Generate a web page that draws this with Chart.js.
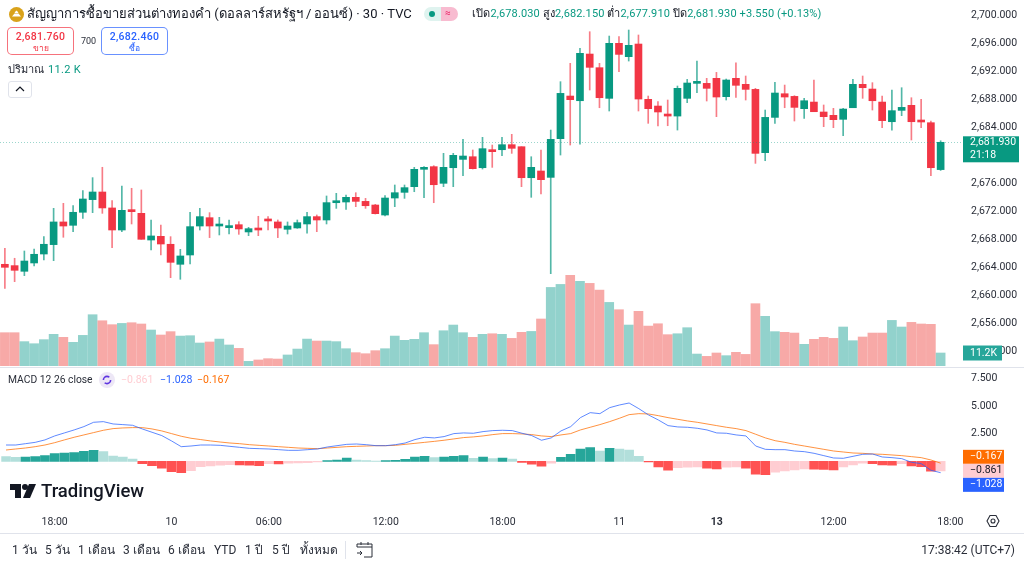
<!DOCTYPE html>
<html>
<head>
<meta charset="utf-8">
<title>TVC gold CFD 30m</title>
<script src="https://cdn.jsdelivr.net/npm/chart.js@4"></script>
<style>
	html, body { margin: 0; padding: 0; background: #fff; width: 1024px; height: 565px; overflow: hidden; }
	body { position: relative; font-family: Roboto, "Noto Sans", sans-serif; color: #131722; }
	canvas { position: absolute; left: 0; }
	.txt { position: absolute; white-space: nowrap; line-height: 1; }
	.up { color: #089981; }
	.box { position: absolute; top: 27px; width: 65px; height: 26px; border-radius: 5px; background: #fff; text-align: center; }
	.box b { display: block; font-size: 10.5px; margin-top: 3px; line-height: 12px; letter-spacing: .3px; font-weight: 500; }
	.box span { display: block; font-size: 8.5px; line-height: 10px; }
	.range { top: 544px; font-size: 12px; color: #2a2e39; }
</style>
</head>
<body>
<canvas id="price-chart" width="1024" height="366" style="top:0"></canvas>
<canvas id="macd-chart" width="1024" height="166" style="top:367px"></canvas>

<!-- header -->
<svg style="position:absolute;left:9px;top:7px" width="15" height="15" viewBox="0 0 15 15">
	<circle cx="7.5" cy="7.5" r="7.5" fill="#d9a21b"/>
	<path d="M3 9.5 L5.5 6.5 H9.5 L12 9.5 Z M5.5 6 L7 3.8 H8 L9.5 6 Z" fill="#fff"/>
</svg>
<div class="txt" style="left:27px;top:7px;font-size:13px">สัญญาการซื้อขายส่วนต่างทองคำ (ดอลลาร์สหรัฐฯ / ออนซ์) · 30 · TVC</div>
<div style="position:absolute;left:424px;top:7px;width:17px;height:14px;background:#dff3ef;border-radius:7px 0 0 7px"></div>
<div style="position:absolute;left:441px;top:7px;width:17px;height:14px;background:#f8bbd0;border-radius:0 7px 7px 0"></div>
<div style="position:absolute;left:429px;top:11px;width:6px;height:6px;background:#089981;border-radius:50%"></div>
<div class="txt" style="left:445px;top:8px;font-size:10px;color:#e91e63">≈</div>
<div class="txt" style="left:472px;top:8px;font-size:11px;letter-spacing:.13px">เปิด<span class="up">2,678.030</span> สูง<span class="up">2,682.150</span> ต่ำ<span class="up">2,677.910</span> ปิด<span class="up">2,681.930 +3.550 (+0.13%)</span></div>

<div class="box" style="left:7px;border:1px solid rgba(242,54,69,0.7);color:#f23645"><b>2,681.760</b><span>ขาย</span></div>
<div class="txt" style="left:81px;top:37px;font-size:9px;color:#2a2e39">700</div>
<div class="box" style="left:101px;border:1px solid rgba(41,98,255,0.7);color:#2962ff"><b>2,682.460</b><span>ซื้อ</span></div>
<div class="txt" style="left:8px;top:64px;font-size:11px;color:#2a2e39">ปริมาณ</div>
<div class="txt up" style="left:48px;top:64px;font-size:11px;letter-spacing:.3px">11.2 K</div>
<div style="position:absolute;left:8px;top:81px;width:22px;height:15px;border:1px solid #e0e3eb;border-radius:3px"></div>
<svg style="position:absolute;left:14px;top:85px" width="12" height="8" viewBox="0 0 12 8"><path d="M2 6 L6 2 L10 6" fill="none" stroke="#131722" stroke-width="1.2"/></svg>

<!-- MACD legend -->
<div class="txt" style="left:8px;top:375px;font-size:10.3px;color:#2a2e39">MACD 12 26 close</div>
<div style="position:absolute;left:99px;top:372px;width:16px;height:16px;border-radius:50%;background:#ede7f6"></div>
<svg style="position:absolute;left:102px;top:375px" width="10" height="10" viewBox="0 0 10 10"><circle cx="5" cy="5" r="3.6" fill="none" stroke="#5e35e0" stroke-width="1.6" stroke-dasharray="8 3"/></svg>
<div class="txt" style="left:121px;top:375px;font-size:10.5px;color:#ffcdd2">−0.861</div>
<div class="txt" style="left:160px;top:375px;font-size:10.5px;color:#2962ff">−1.028</div>
<div class="txt" style="left:197px;top:375px;font-size:10.5px;color:#ff6d00">−0.167</div>

<!-- logo -->
<svg style="position:absolute;left:10px;top:484px" width="26" height="14" viewBox="0 0 26 14">
	<path d="M0 0 H11 V14 H5 V6 H0 Z" fill="#131722"/>
	<circle cx="15" cy="3" r="3" fill="#131722"/>
	<path d="M19 0 H26 L20 14 H13 Z" fill="#131722"/>
</svg>
<div class="txt" style="left:41px;top:482px;font-size:18.5px;font-weight:500;color:#131722">TradingView</div>

<!-- settings icon -->
<svg style="position:absolute;left:986px;top:514px" width="14" height="14" viewBox="0 0 14 14">
	<path d="M4 1.5 H10 L13 7 L10 12.5 H4 L1 7 Z" fill="none" stroke="#2a2e39" stroke-width="1.1"/>
	<circle cx="7" cy="7" r="2" fill="none" stroke="#2a2e39" stroke-width="1.1"/>
</svg>

<!-- bottom toolbar -->
<div style="position:absolute;left:0;top:533px;width:1024px;height:1px;background:#e0e3eb"></div>
<div class="txt range" style="left:12px">1 วัน</div>
<div class="txt range" style="left:45px">5 วัน</div>
<div class="txt range" style="left:78px">1 เดือน</div>
<div class="txt range" style="left:123px">3 เดือน</div>
<div class="txt range" style="left:168px">6 เดือน</div>
<div class="txt range" style="left:214px">YTD</div>
<div class="txt range" style="left:245px">1 ปี</div>
<div class="txt range" style="left:272px">5 ปี</div>
<div class="txt range" style="left:300px">ทั้งหมด</div>
<div style="position:absolute;left:345px;top:541px;width:1px;height:18px;background:#e0e3eb"></div>
<svg style="position:absolute;left:356px;top:541px" width="17" height="17" viewBox="0 0 17 17">
	<path d="M1 6 V3 H16 V16 H8 M1 6 H16 M5 1 V4 M12 1 V4 M1 12 H6 M4 10 L6 12 L4 14" fill="none" stroke="#2a2e39" stroke-width="1"/>
</svg>
<div class="txt" style="right:9px;top:544px;font-size:12px;color:#2a2e39">17:38:42 (UTC+7)</div>

<script>
const tickSlots = [5, 17, 27, 39, 51, 63, 73, 85, 97]
const tickLabels = ['18:00', '10', '06:00', '12:00', '18:00', '11', '13', '12:00', '18:00']
const priceTicks = [2652, 2656, 2660, 2664, 2668, 2672, 2676, 2684, 2688, 2692, 2696, 2700]
const macdTicks = [2.5, 5, 7.5]

const opens = [
	2664.50, 2664.31, 2663.50, 2664.69, 2665.97, 2667.31, 2670.55, 2670.07, 2671.93, 2673.74,
	2674.83, 2672.55, 2669.40, 2672.16, 2671.78, 2667.97, 2668.50, 2667.36, 2664.50, 2665.83,
	2669.97, 2671.16, 2669.97, 2669.74, 2670.16, 2669.12, 2669.59, 2670.93, 2670.55, 2669.50,
	2669.69, 2670.26, 2671.31, 2670.83, 2673.30, 2673.40, 2674.07, 2673.49, 2672.97, 2671.54,
	2673.97, 2674.78, 2675.59, 2678.07, 2678.45, 2676.07, 2678.30, 2679.49, 2679.87, 2678.30,
	2680.73, 2680.87, 2681.59, 2681.30, 2676.87, 2677.83, 2676.92, 2682.45, 2688.54, 2687.87,
	2694.54, 2692.59, 2688.21, 2696.07, 2694.16, 2695.97, 2688.07, 2687.11, 2685.97, 2685.68,
	2688.21, 2690.35, 2690.35, 2691.07, 2688.45, 2691.07, 2690.21, 2689.49, 2680.45, 2685.49,
	2688.87, 2688.49, 2686.73, 2687.68, 2686.26, 2685.78, 2685.21, 2686.87, 2690.21, 2689.54,
	2687.68, 2684.87, 2686.49, 2687.21, 2684.97, 2684.73, 2678.03
]
const highs = [
	2666.78, 2665.36, 2666.40, 2666.69, 2668.45, 2672.50, 2673.21, 2672.88, 2675.02, 2676.88,
	2678.36, 2673.59, 2675.69, 2675.36, 2675.12, 2670.83, 2670.12, 2668.45, 2666.64, 2671.93,
	2672.50, 2671.88, 2671.21, 2670.83, 2670.59, 2669.78, 2671.36, 2671.31, 2670.83, 2670.55,
	2670.83, 2671.93, 2671.55, 2674.26, 2674.64, 2674.40, 2674.73, 2673.92, 2673.07, 2674.30,
	2675.83, 2675.83, 2678.35, 2678.45, 2678.59, 2680.35, 2680.35, 2682.35, 2680.83, 2682.64,
	2681.54, 2682.64, 2683.07, 2681.30, 2679.87, 2680.83, 2683.68, 2690.59, 2693.21, 2695.35,
	2697.73, 2693.21, 2697.11, 2697.02, 2697.97, 2697.26, 2688.54, 2687.73, 2687.97, 2689.97,
	2690.92, 2693.54, 2691.07, 2691.92, 2690.97, 2693.30, 2691.40, 2689.64, 2686.54, 2690.49,
	2690.11, 2688.59, 2688.21, 2690.83, 2687.26, 2686.78, 2686.78, 2690.92, 2691.40, 2690.45,
	2688.54, 2689.40, 2689.73, 2688.30, 2688.07, 2684.97, 2682.15
]
const lows = [
	2661.07, 2662.02, 2662.88, 2664.26, 2665.12, 2665.02, 2668.36, 2669.16, 2671.07, 2671.88,
	2671.78, 2666.88, 2669.16, 2670.26, 2668.07, 2666.55, 2665.83, 2662.59, 2662.36, 2664.55,
	2669.40, 2668.31, 2668.69, 2668.83, 2668.78, 2668.59, 2668.59, 2669.40, 2668.31, 2668.83,
	2669.64, 2668.93, 2669.16, 2670.26, 2672.49, 2672.35, 2672.73, 2672.49, 2671.68, 2671.40,
	2672.73, 2673.92, 2674.87, 2674.02, 2673.30, 2675.59, 2675.59, 2677.16, 2678.11, 2678.11,
	2678.35, 2680.02, 2680.35, 2675.59, 2674.07, 2674.54, 2663.16, 2680.11, 2681.54, 2681.68,
	2689.40, 2686.87, 2686.40, 2692.02, 2693.54, 2686.40, 2684.64, 2684.26, 2684.30, 2683.68,
	2687.59, 2689.02, 2687.83, 2685.59, 2687.97, 2688.35, 2687.97, 2678.92, 2679.30, 2684.64,
	2686.87, 2684.97, 2685.35, 2686.30, 2684.16, 2684.02, 2682.87, 2686.87, 2688.21, 2686.54,
	2684.02, 2683.68, 2685.73, 2682.26, 2684.02, 2677.16, 2677.91
]
const closes = [
	2664.07, 2663.64, 2664.97, 2665.93, 2667.36, 2670.55, 2669.97, 2671.93, 2673.83, 2674.83,
	2672.55, 2669.40, 2672.21, 2672.02, 2668.07, 2668.55, 2667.40, 2664.78, 2665.69, 2669.88,
	2671.31, 2669.97, 2670.16, 2669.93, 2669.55, 2669.59, 2669.40, 2670.69, 2669.69, 2669.97,
	2670.45, 2671.31, 2670.83, 2673.31, 2673.45, 2674.07, 2673.49, 2672.87, 2671.73, 2673.97,
	2674.73, 2675.45, 2678.07, 2678.30, 2675.87, 2678.35, 2680.07, 2679.97, 2678.16, 2681.02,
	2680.59, 2681.59, 2681.07, 2676.87, 2678.35, 2676.59, 2682.35, 2688.92, 2688.02, 2694.64,
	2692.64, 2688.30, 2696.07, 2694.49, 2695.78, 2688.11, 2686.73, 2686.26, 2685.68, 2689.64,
	2690.40, 2690.59, 2689.64, 2688.40, 2690.83, 2690.07, 2689.49, 2680.35, 2685.49, 2688.97,
	2688.40, 2686.92, 2687.87, 2686.30, 2685.59, 2685.16, 2686.68, 2690.21, 2689.73, 2687.87,
	2685.02, 2686.45, 2686.92, 2684.87, 2684.83, 2678.30, 2681.93
]
const volumes = [
	28.7, 28.7, 21.0, 19.2, 22.7, 27.3, 24.7, 20.4, 26.4, 44.2,
	39.0, 35.6, 36.7, 37.3, 36.2, 31.0, 26.7, 29.6, 25.8, 26.1,
	19.8, 20.7, 23.2, 18.1, 15.2, 4.0, 5.2, 6.3, 6.0, 9.5,
	14.6, 23.2, 21.5, 21.5, 21.0, 14.9, 11.5, 10.6, 13.2, 14.9,
	25.8, 22.1, 23.0, 28.7, 18.4, 30.4, 35.3, 28.7, 24.7, 27.3,
	27.8, 27.3, 23.8, 29.0, 29.8, 40.5, 67.7, 70.3, 78.1, 72.9,
	71.2, 65.4, 54.8, 48.5, 35.3, 47.1, 34.4, 36.4, 27.0, 27.8,
	33.0, 10.3, 8.3, 11.2, 8.9, 11.8, 10.0, 53.7, 42.8, 29.6,
	29.0, 28.4, 18.7, 23.0, 24.7, 23.8, 33.6, 21.8, 25.0, 28.4,
	28.4, 39.3, 33.6, 37.6, 36.2, 35.9, 11.2
]
const macdLine = [
	1.47, 1.47, 1.59, 1.71, 1.93, 2.29, 2.56, 2.83, 3.13, 3.52,
	3.58, 3.37, 3.31, 3.25, 2.92, 2.62, 2.32, 1.84, 1.32, 1.38,
	1.47, 1.47, 1.44, 1.35, 1.26, 1.17, 1.14, 1.11, 1.05, 0.99,
	0.99, 1.05, 1.11, 1.29, 1.41, 1.53, 1.56, 1.50, 1.41, 1.41,
	1.50, 1.65, 1.96, 2.17, 2.11, 2.23, 2.50, 2.56, 2.53, 2.68,
	2.77, 2.80, 2.77, 2.53, 2.32, 1.90, 2.11, 2.74, 3.13, 3.94,
	4.39, 4.30, 4.84, 5.08, 5.26, 4.75, 4.18, 3.73, 3.22, 3.10,
	3.07, 2.98, 2.83, 2.56, 2.53, 2.38, 2.29, 1.38, 1.08, 1.05,
	1.05, 0.93, 0.87, 0.72, 0.51, 0.30, 0.27, 0.45, 0.63, 0.66,
	0.39, 0.33, 0.24, -0.09, -0.21, -0.81, -1.028
]
const signalLine = [
	1.02, 1.11, 1.20, 1.32, 1.47, 1.68, 1.93, 2.17, 2.38, 2.59,
	2.80, 2.95, 3.01, 3.04, 3.04, 2.92, 2.74, 2.50, 2.26, 2.08,
	1.96, 1.84, 1.74, 1.65, 1.59, 1.50, 1.44, 1.38, 1.32, 1.26,
	1.20, 1.17, 1.14, 1.20, 1.26, 1.32, 1.35, 1.38, 1.41, 1.41,
	1.44, 1.53, 1.62, 1.71, 1.80, 1.90, 2.02, 2.14, 2.20, 2.29,
	2.41, 2.50, 2.50, 2.47, 2.41, 2.29, 2.23, 2.38, 2.50, 2.83,
	3.07, 3.31, 3.58, 3.88, 4.21, 4.30, 4.27, 4.12, 3.94, 3.79,
	3.64, 3.52, 3.37, 3.22, 3.07, 2.95, 2.77, 2.44, 2.11, 1.86,
	1.71, 1.53, 1.38, 1.23, 1.08, 0.93, 0.84, 0.75, 0.72, 0.66,
	0.63, 0.57, 0.51, 0.42, 0.33, 0.12, -0.167
]
const histogram = [
	0.42, 0.36, 0.39, 0.42, 0.51, 0.69, 0.75, 0.78, 0.90, 0.99,
	0.87, 0.48, 0.39, 0.21, -0.21, -0.39, -0.63, -0.93, -1.02, -0.84,
	-0.48, -0.42, -0.36, -0.30, -0.33, -0.34, -0.39, -0.21, -0.24, -0.18,
	-0.15, -0.12, -0.06, 0.06, 0.12, 0.30, 0.12, 0.06, 0.03, 0.06,
	0.09, 0.18, 0.39, 0.45, 0.33, 0.39, 0.45, 0.51, 0.27, 0.39,
	0.24, 0.30, 0.21, -0.09, -0.27, -0.45, -0.18, 0.36, 0.63, 1.11,
	1.23, 0.93, 1.17, 1.11, 1.02, 0.45, -0.06, -0.51, -0.81, -0.57,
	-0.54, -0.51, -0.63, -0.69, -0.54, -0.51, -0.63, -1.17, -1.20, -0.99,
	-0.87, -0.78, -0.69, -0.72, -0.74, -0.78, -0.51, -0.33, -0.18, -0.21,
	-0.33, -0.34, -0.21, -0.42, -0.48, -0.90, -0.861
]

const lastPrice = closes[closes.length - 1]
const lastVolume = volumes[volumes.length - 1]
const countdown = '21:18'

// 99 slots so that one bar step is the same as the picture, blanks except on the ticks
const categories = Array.from({ length: 99 }, (_, i) => {
	const at = tickSlots.indexOf(i)
	return at >= 0 ? tickLabels[at] : ''
})

const upColor = '#089981'
const downColor = '#f23645'
const candleColors = opens.map((o, i) => closes[i] >= o ? upColor : downColor)
const wickColors = opens.map((o, i) => closes[i] >= o ? 'rgba(8,153,129,0.7)' : 'rgba(242,54,69,0.65)')
const volumeColors = opens.map((o, i) => closes[i] >= o ? 'rgba(38,166,154,0.5)' : 'rgba(239,83,80,0.5)')
const histColors = histogram.map((v, i) => {
	const prev = i > 0 ? histogram[i - 1] : v
	if (v >= 0) return v > prev ? '#26a69a' : '#b2dfdb'
	return v < prev ? '#ff5252' : '#ffcdd2'
})

const axisFont = { family: 'Roboto, "Noto Sans", sans-serif', size: 10.5 }
const axisColor = '#2a2e39'
const priceFmt = v => v.toLocaleString('en-US', { minimumFractionDigits: 3, maximumFractionDigits: 3 })

// right axes keep a fixed width and no label overhang, the panes fill their canvas
const fitRightAxis = scale => {
	scale.width = 59
	scale.paddingTop = 0
	scale.paddingBottom = 0
}

const drawTag = (ctx, x, y, w, h, bg, fg, lines) => {
	ctx.save()
	ctx.fillStyle = bg
	ctx.fillRect(x, y, w, h)
	ctx.fillStyle = fg
	ctx.font = '10.5px Roboto, "Noto Sans", sans-serif'
	ctx.textBaseline = 'middle'
	ctx.textAlign = 'left'
	lines.forEach((line, i) => ctx.fillText(line, x + 7, y + h / (lines.length * 2) * (2 * i + 1)))
	ctx.restore()
}

const priceTags = {
	id: 'priceTags',
	afterDraw(chart) {
		const ctx = chart.ctx
		const area = chart.chartArea
		const py = chart.scales.y.getPixelForValue(lastPrice)
		ctx.save()
		ctx.strokeStyle = 'rgba(8,153,129,0.4)'
		ctx.setLineDash([1, 2])
		ctx.beginPath()
		ctx.moveTo(0, Math.round(py) + 0.5)
		ctx.lineTo(area.right, Math.round(py) + 0.5)
		ctx.stroke()
		ctx.restore()
		drawTag(ctx, 963, py - 6, 56, 26, '#089981', '#fff', [priceFmt(lastPrice), countdown])
		const vy = chart.scales.yVol.getPixelForValue(lastVolume)
		drawTag(ctx, 963, vy - 7.5, 39, 15, '#26a69a', '#fff', [lastVolume.toFixed(1) + 'K'])
	}
}

const macdTags = {
	id: 'macdTags',
	afterDraw(chart) {
		const ctx = chart.ctx
		const mid = chart.scales.y.getPixelForValue(histogram[histogram.length - 1])
		const fmt = v => '−' + Math.abs(v).toFixed(3)
		drawTag(ctx, 963, mid - 21, 41, 14, '#ff6d00', '#fff', [fmt(signalLine[signalLine.length - 1])])
		drawTag(ctx, 963, mid - 7, 41, 14, '#ffcdd2', '#131722', [fmt(histogram[histogram.length - 1])])
		drawTag(ctx, 963, mid + 7, 41, 14, '#2962ff', '#fff', [fmt(macdLine[macdLine.length - 1])])
	}
}

const paneLine = {
	id: 'paneLine',
	afterDraw(chart) {
		const ctx = chart.ctx
		ctx.save()
		ctx.strokeStyle = '#e0e3eb'
		ctx.beginPath()
		ctx.moveTo(0, 0.5)
		ctx.lineTo(1024, 0.5)
		ctx.stroke()
		ctx.restore()
	}
}

/*
Candles are two floating bar sets on one price scale, volume sits on its own hidden scale
*/
const priceChart = new Chart(document.getElementById('price-chart').getContext('2d'), {
	type: 'bar',
	data: {
		labels: categories,
		datasets: [
			{
				data: lows.map((l, i) => [l, highs[i]]),
				backgroundColor: wickColors,
				barThickness: 1,
				grouped: false,
				yAxisID: 'y',
				order: 2
			},
			{
				data: opens.map((o, i) => [o, closes[i]]),
				backgroundColor: candleColors,
				barThickness: 7,
				minBarLength: 2,
				grouped: false,
				yAxisID: 'y',
				order: 1
			},
			{
				data: volumes,
				backgroundColor: volumeColors,
				barThickness: 9,
				grouped: false,
				yAxisID: 'yVol',
				order: 3
			}
		]
	},
	options: {
		responsive: false,
		animation: false,
		layout: { padding: 0, autoPadding: false },
		plugins: { legend: { display: false }, tooltip: { enabled: false } },
		scales: {
			x: { display: false, offset: true },
			y: {
				position: 'right',
				min: 2649.97,
				max: 2702.26,
				afterFit: fitRightAxis,
				afterBuildTicks: scale => { scale.ticks = priceTicks.map(v => ({ value: v })) },
				grid: { display: false, drawTicks: false },
				border: { display: false },
				ticks: { padding: 6, color: axisColor, font: axisFont, callback: priceFmt }
			},
			yVol: { display: false, position: 'left', min: 0, max: 315.4 }
		}
	},
	plugins: [priceTags]
})

const macdChart = new Chart(document.getElementById('macd-chart').getContext('2d'), {
	type: 'bar',
	data: {
		labels: categories,
		datasets: [
			{
				type: 'line',
				data: macdLine,
				borderColor: 'rgba(41,98,255,0.75)',
				borderWidth: 1,
				pointRadius: 0,
				tension: 0,
				order: 1
			},
			{
				type: 'line',
				data: signalLine,
				borderColor: 'rgba(255,109,0,0.75)',
				borderWidth: 1,
				pointRadius: 0,
				tension: 0,
				order: 2
			},
			{
				data: histogram,
				backgroundColor: histColors,
				barThickness: 9,
				order: 3
			}
		]
	},
	options: {
		responsive: false,
		animation: false,
		layout: { padding: 0, autoPadding: false },
		plugins: { legend: { display: false }, tooltip: { enabled: false } },
		scales: {
			x: {
				offset: true,
				afterFit: scale => { scale.height = 23 },
				grid: { display: false, drawTicks: false },
				border: { display: false },
				ticks: {
					autoSkip: false,
					maxRotation: 0,
					padding: 6,
					color: axisColor,
					font: ctx => ctx.tick && ctx.tick.label === '13' ? { ...axisFont, weight: 'bold' } : axisFont
				}
			},
			y: {
				position: 'right',
				min: -4.395,
				max: 8.51,
				afterFit: fitRightAxis,
				afterBuildTicks: scale => { scale.ticks = macdTicks.map(v => ({ value: v })) },
				grid: { display: false, drawTicks: false },
				border: { display: false },
				ticks: { padding: 6, color: axisColor, font: axisFont, callback: v => v.toFixed(3) }
			}
		}
	},
	plugins: [paneLine, macdTags]
})
</script>
</body>
</html>
